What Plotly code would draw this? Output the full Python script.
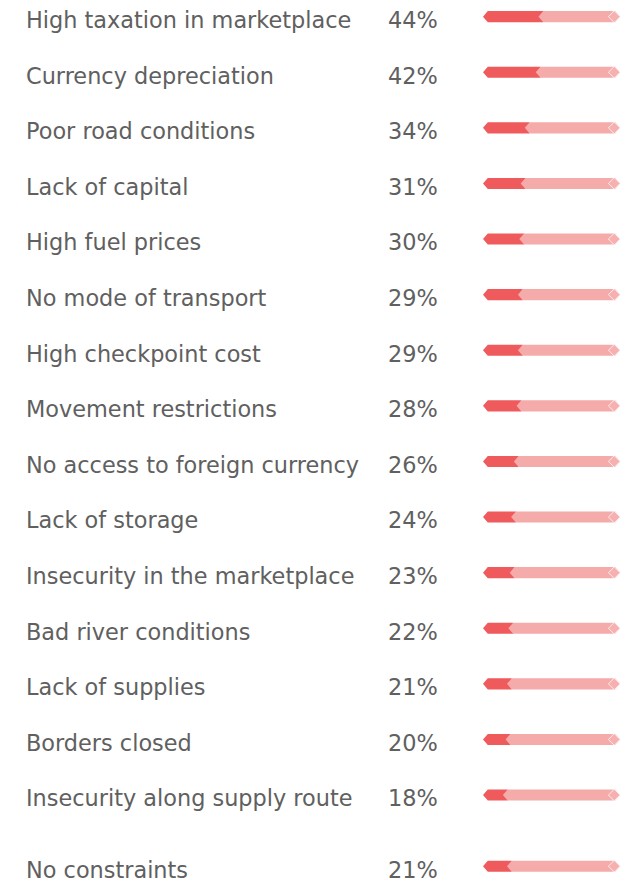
import plotly.graph_objects as go

categories = [
    "High taxation in marketplace", "Currency depreciation", "Poor road conditions",
    "Lack of capital", "High fuel prices", "No mode of transport", "High checkpoint cost",
    "Movement restrictions", "No access to foreign currency", "Lack of storage",
    "Insecurity in the marketplace", "Bad river conditions", "Lack of supplies",
    "Borders closed", "Insecurity along supply route", "No constraints",
]
values = [44, 42, 34, 31, 30, 29, 29, 28, 26, 24, 23, 22, 21, 20, 18, 21]
value_labels = [f"{v}%" for v in values]

DARK = "#EF5A5C"
LIGHT = "#F6ABAB"
TEXT = "#606060"

W, HGT = 626, 876   # page body has an 8px margin

# row positions (last row separated by an extra gap)
GAP = 0.28
pos = [i if i < 15 else i + GAP for i in range(len(categories))]

H = 0.100      # half bar height (row units)
OFF = 0.06     # bar sits slightly above text centre
D = 3.5        # arrow tip depth (value units)

dx, dy, lx, ly, mx, my = [], [], [], [], [], []
for p, v in zip(pos, values):
    yc = p - OFF
    dx += [0, D, v, v, D, 0, None]
    dy += [yc, yc - H, yc - H, yc + H, yc + H, yc, None]
    lx += [v - D, v, 100 - D, 100, 100 - D, v, v - D, None]
    ly += [yc, yc - H, yc - H, yc, yc + H, yc + H, yc, None]
    mx.append(95.8)
    my.append(yc)

fig = go.Figure()
fig.add_trace(go.Scatter(x=dx, y=dy, fill="toself", fillcolor=DARK, mode="lines",
                         line=dict(width=0), hoverinfo="skip"))
fig.add_trace(go.Scatter(x=lx, y=ly, fill="toself", fillcolor=LIGHT, mode="lines",
                         line=dict(width=0), hoverinfo="skip"))
fig.add_trace(go.Scatter(x=mx, y=my, mode="markers",
                         marker=dict(symbol="diamond", size=9, color="#F7B0B0",
                                     line=dict(color="rgba(255,255,255,0.75)", width=1)),
                         hoverinfo="skip"))

for p, c, t in zip(pos, categories, value_labels):
    fig.add_annotation(x=16 / W, xref="paper", y=p, yref="y", text=c, showarrow=False,
                       xanchor="left", yanchor="middle",
                       font=dict(family="DejaVu Sans", size=22.4, color=TEXT))
    fig.add_annotation(x=378 / W, xref="paper", y=p, yref="y", text=t, showarrow=False,
                       xanchor="left", yanchor="middle",
                       font=dict(family="DejaVu Sans", size=22.4, color=TEXT))

fig.update_layout(
    width=W, height=HGT, margin=dict(l=0, r=0, t=0, b=0),
    paper_bgcolor="white", plot_bgcolor="white", showlegend=False,
    xaxis=dict(domain=[475 / W, 612 / W], range=[0, 100], visible=False, fixedrange=True),
    yaxis=dict(range=[(HGT - 12) / 55.6, -12 / 55.6], visible=False, fixedrange=True),
)
fig.write_html("out.html")
